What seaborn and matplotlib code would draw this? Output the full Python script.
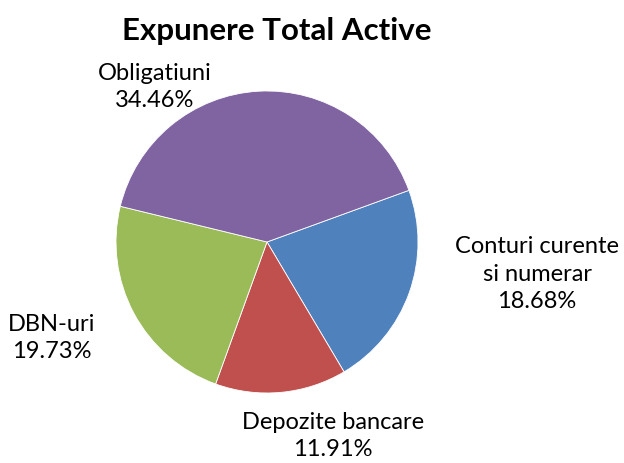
import matplotlib
matplotlib.use("Agg")
import matplotlib.pyplot as plt
import seaborn as sns

sns.set_theme(style="white")
plt.rcParams['font.family'] = ['Lato', 'DejaVu Sans']
plt.rcParams['text.color'] = 'black'

# Data
categories = ['Conturi curente\nsi numerar', 'Depozite bancare', 'DBN-uri', 'Obligatiuni']
values = [18.68, 11.91, 19.73, 34.46]
colors = ['#4F81BD', '#C0504D', '#9BBB59', '#8064A2']

fig = plt.figure(figsize=(6.24, 4.63), dpi=100)
ax = fig.add_axes([0.1859, 0.1512, 0.484, 0.6523])

wedges, _ = ax.pie(values, colors=colors, startangle=20, counterclock=False,
                   wedgeprops=dict(edgecolor='white', linewidth=0.6))
ax.set_xlim(-1, 1)
ax.set_ylim(-1, 1)
ax.set_aspect('equal')

# label positions (data units, radius = 1)
label_pos = [(1.788, -0.212), (0.437, -1.285), (-1.424, -0.636), (-0.742, 1.026)]
for cat, val, (x, y) in zip(categories, values, label_pos):
    ax.text(x, y, f"{cat}\n{val:.2f}%", ha='center', va='center',
            fontsize=17, linespacing=1.38, clip_on=False)

fig.text(0.444, 0.933, "Expunere Total Active", ha='center', va='center',
         fontsize=22.5, fontweight='bold')

fig.savefig("out.png", dpi=100)
